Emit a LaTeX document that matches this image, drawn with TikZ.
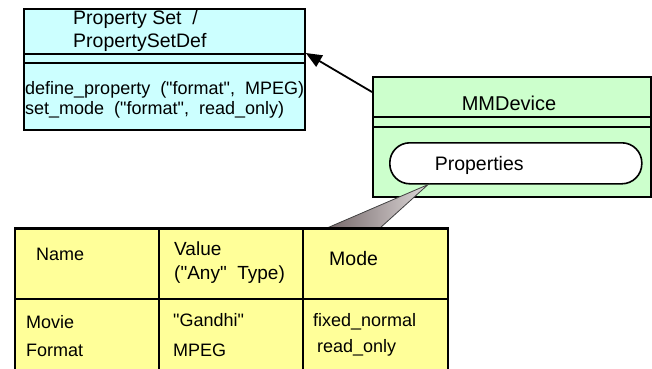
\documentclass[tikz,border=0pt]{standalone}
\usepackage{fontspec}
\setmainfont{Liberation Sans}[Ligatures=TeXOff]
\definecolor{PaleCyan}{HTML}{CCFFFF}
\definecolor{PaleGreen}{HTML}{CCFFCC}
\definecolor{PaleYellow}{HTML}{FFFF99}
\definecolor{WedgeDark}{HTML}{76686a}
\definecolor{WedgeLight}{HTML}{dcd8d8}
\usepackage{tikz}
\usetikzlibrary{arrows.meta,calc}

\begin{document}
\begin{tikzpicture}[x=1pt, y=-1pt,
      umlbox/.style={draw=black, line width=1.8pt, anchor=north west,
                     inner sep=0pt},
      sepline/.style={black, line width=1.6pt},
      pill/.style={draw=black, line width=1.6pt, fill=white,
                   rounded corners=20pt, anchor=north west,
                   minimum height=41pt, inner ysep=0pt, align=left},
      title/.style={inner sep=0pt, font=\fontsize{19.5}{23}\selectfont},
      body/.style={inner sep=0pt, anchor=base west,
                   font=\fontsize{18}{20}\selectfont},
      inherit/.style={-{Triangle[length=16pt,width=13pt]},
                      black, line width=1.8pt},
      wedge/.style={draw=black!75, line width=0.8pt,
                    left color=WedgeDark, right color=WedgeLight}]

      \useasboundingbox (0,0) rectangle (652,368);
      \clip (0,0) rectangle (652,368);

      \node[umlbox, fill=PaleCyan, minimum width=281pt,
            minimum height=121pt] (pset) at (23,8) {};
      \foreach \sy in {54,63}
        \draw[sepline] (pset.west |- 0,\sy) -- (pset.east |- 0,\sy);
      \node[title, anchor=north west, align=left] (psetname) at (73,10.5)
            {Property Set~~/\\PropertySetDef};
      \node[body, anchor=north west, align=left] (psetops) at (25,81)
            {define\_property~~("format",~~MPEG)\\
             set\_mode~~("format",~~read\_only)};

      \node[umlbox, fill=PaleGreen, minimum width=278pt,
            minimum height=120pt] (mmdev) at (372,76) {};
      \foreach \sy in {117,127}
        \draw[sepline] (mmdev.west |- 0,\sy) -- (mmdev.east |- 0,\sy);
      \node[title, anchor=base, font=\fontsize{20}{23}\selectfont]
            (mmname) at (509,110) {MMDevice};
      \node[pill, text width=162pt, inner xsep=45pt, text height=14pt,
            text depth=0pt, font=\fontsize{19.5}{22}\selectfont]
            (props) at (389,142) {Properties};

      \draw[inherit] ([yshift=-16pt]mmdev.north west) -- (pset.east |- 0,53);

      \node[umlbox, fill=PaleYellow, line width=2pt, minimum width=433pt,
            minimum height=160pt] (tbl) at (14,228) {};

      \coordinate (tip) at ($(props.south west)+(39,0)$);
      \coordinate (wl) at ($(tbl.north west)+(313,0)$);
      \coordinate (wr) at ($(tbl.north west)+(366,0)$);
      \draw[wedge] (tip) -- (wl) -- (wr) -- cycle;
      \draw[black, line width=2pt] (tbl.north west) -- (tbl.north east);

      \draw[sepline, line width=2pt] (tbl.west |- 0,299) -- (tbl.east |- 0,299);
      \foreach \cx in {159,303}
        \draw[sepline, line width=2pt] (tbl.north -| \cx,0) -- (tbl.south -| \cx,0);

      \node[body] (hname) at (36,260.5) {Name};
      \node[body, anchor=north west, align=left,
            font=\fontsize{19}{24.5}\selectfont] (hvalue) at (174,241.5)
            {Value\\("Any"~~Type)};
      \node[body, font=\fontsize{19.5}{22}\selectfont] (hmode) at (329,265) {Mode};

      \node[body] (movie) at (26,328) {Movie};
      \node[body] (format) at (26,356.5) {Format};
      \node[body] (gandhi) at (173,326.5) {"Gandhi"};
      \node[body] (mpeg) at (173,356) {MPEG};
      \node[body] (fixed) at (313,326) {fixed\_normal};
      \node[body] (readonly) at (317,352) {read\_only};
    \end{tikzpicture}
\end{document}
